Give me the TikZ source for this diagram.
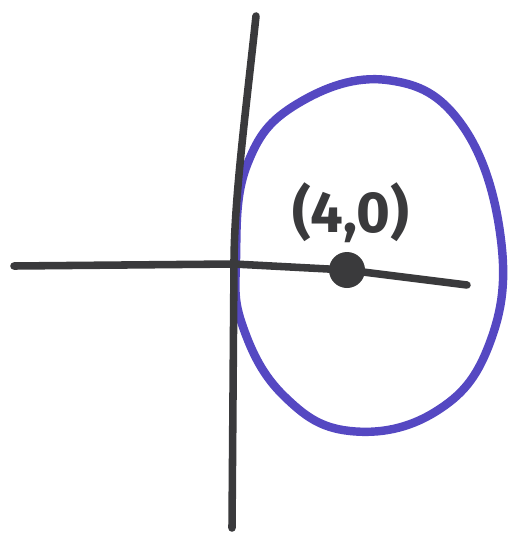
\documentclass[tikz,border=0pt]{standalone}
\usepackage{fontspec}
\setsansfont{Fira Sans}
\definecolor{pen}{HTML}{3A3A3C}
\definecolor{marker}{HTML}{5548C2}
\begin{document}
\begin{tikzpicture}[x=0.02cm, y=-0.02cm, line cap=round, line join=round,
  axis/.style={pen, line width=4.3pt},
  ring/.style={marker, line width=4.8pt},
  every node/.style={font=\sffamily\bfseries\fontsize{33}{36}\selectfont, text=pen}]
  \useasboundingbox (0,0) rectangle (508,548);
  \coordinate (L) at (14,266);
  \coordinate (O) at (234,264);
  \coordinate (R) at (467,285);
  \coordinate (T) at (256,16);
  \coordinate (Bt) at (232,528);
  \coordinate (P) at (347,270);
  \draw[ring] plot[smooth cycle, tension=0.7] coordinates {
    (387,80) (462,125) (501,240) (489,345) (435,412) (350,431)
    (284,396) (243,327) (236,260) (247,165) (297,104)};
  \draw[axis] (L)--(O)--(P)--(R);
  \draw[axis] (T) .. controls (246,110) and (234,200) .. (O) -- (Bt);
  \fill[pen] (P) circle (18);
  \node (lbl) at (351,213) {(4,0)};
\end{tikzpicture}
\end{document}
